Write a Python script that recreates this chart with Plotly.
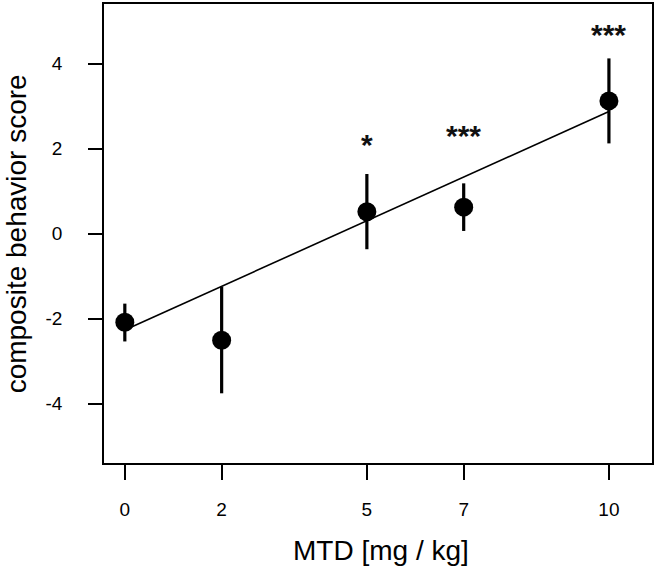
import plotly.graph_objects as go
import numpy as np

# Data
dose = [0, 2, 5, 7, 10]
score_mean = [-2.09, -2.51, 0.51, 0.62, 3.12]
err_upper = [-1.65, -1.25, 1.40, 1.18, 4.12]
err_lower = [-2.54, -3.76, -0.37, 0.06, 2.12]
sig_labels = ["", "", "*", "***", "***"]
sig_y = [None, None, 2.11, 2.34, 4.71]
fit_intercept = -2.27
fit_slope = 0.514
x_ticks = [0, 2, 5, 7, 10]
y_ticks = [-4, -2, 0, 2, 4]

FONT = "Liberation Sans, Arial, Helvetica, sans-serif"

plus = [u - m for u, m in zip(err_upper, score_mean)]
minus = [m - l for m, l in zip(score_mean, err_lower)]

fig = go.Figure()

fit_x = np.array([min(dose), max(dose)])
fig.add_trace(go.Scatter(x=fit_x, y=fit_intercept + fit_slope * fit_x, mode="lines",
                         line=dict(color="black", width=1.6), showlegend=False,
                         hoverinfo="skip"))

fig.add_trace(go.Scatter(
    x=dose, y=score_mean, mode="markers",
    marker=dict(color="black", size=19, line=dict(width=0)),
    error_y=dict(type="data", symmetric=False, array=plus, arrayminus=minus,
                 color="black", thickness=3.2, width=0),
    showlegend=False))

for x, lab, y in zip(dose, sig_labels, sig_y):
    if lab:
        fig.add_annotation(x=x, y=y, text="<b>%s</b>" % lab, showarrow=False,
                           xanchor="center", yanchor="middle", yshift=-1,
                           font=dict(family=FONT, size=30, color="#111"))

fig.add_annotation(xref="paper", yref="paper", x=0.505, y=-0.191,
                   text="MTD [mg / kg]", showarrow=False,
                   xanchor="center", yanchor="middle",
                   font=dict(family=FONT, size=28, color="black"))
fig.add_annotation(xref="paper", yref="paper", x=-0.159, y=0.5,
                   text="composite behavior score", showarrow=False, textangle=-90,
                   xanchor="center", yanchor="middle",
                   font=dict(family=FONT, size=28, color="black"))

fig.update_layout(
    width=657, height=569,
    margin=dict(l=104, r=5, t=2, b=106),
    paper_bgcolor="white", plot_bgcolor="white",
    font=dict(family=FONT, color="black"),
)
fig.update_xaxes(range=[-0.43, 10.89], tickvals=x_ticks, ticktext=[str(v) for v in x_ticks],
                 showgrid=False, zeroline=False, showline=True, mirror=True,
                 linecolor="black", linewidth=1.8, ticks="outside", ticklen=15,
                 tickwidth=1.8, tickcolor="black", ticklabelstandoff=13,
                 tickfont=dict(family=FONT, size=19, color="black"))
fig.update_yaxes(range=[-5.4, 5.4], tickvals=y_ticks, ticktext=[str(v) for v in y_ticks],
                 showgrid=False, zeroline=False, showline=True, mirror=True,
                 linecolor="black", linewidth=1.8, ticks="outside", ticklen=14,
                 tickwidth=1.8, tickcolor="black", ticklabelstandoff=22,
                 tickfont=dict(family=FONT, size=19, color="black"))

fig.write_html("out.html", config={"displayModeBar": False},
               post_script="document.body.style.margin='0px';document.body.style.overflow='hidden';")
